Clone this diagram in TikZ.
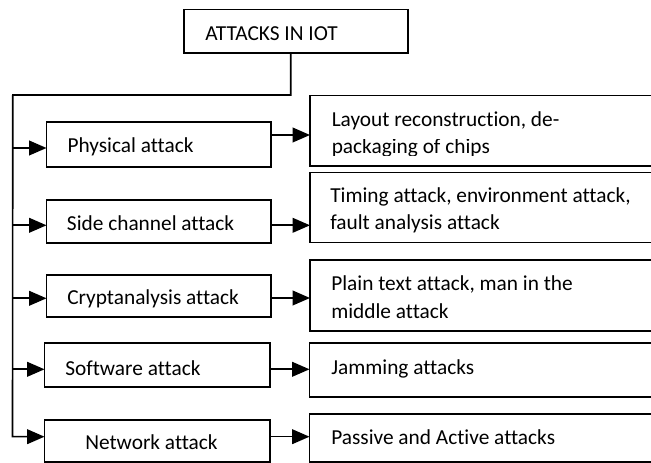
\documentclass[tikz,border=0pt]{standalone}
\usepackage{fontspec}
\setmainfont[Ligatures=CommonOff]{Carlito}
\usetikzlibrary{arrows.meta}

\tikzset{
  box/.style 2 args={draw, line width=1.4pt, minimum width=#1*0.75pt,
    minimum height=#2*0.75pt, anchor=north west, inner sep=0pt, outer sep=0pt},
  lbl/.style={anchor=base west, inner sep=0pt, font=\fontsize{16pt}{20pt}\selectfont},
  arr/.style={line width=1.2pt, -{Triangle[length=13pt,width=11pt]}}
}

\begin{document}
\begin{tikzpicture}[x=0.75pt, y=-0.75pt]
\useasboundingbox (0,0) rectangle (651,463);
\clip (0,0) rectangle (651,463);

% root box
\node[box={224}{43.2}] (root) at (184,9.5) {};
\node[lbl] (root-t) at (205,40.7) {ATTACKS IN IOT};

% categories of attack
\node[box={224.2}{44.4}] (phys) at (46.5,122.3) {};
\node[box={224.5}{43}]   (side) at (46.5,200) {};
\node[box={224.5}{42}]   (cryp) at (46.5,275) {};
\node[box={225.5}{44}]   (soft) at (44.5,343) {};
\node[box={225.5}{42}]   (netw) at (44.5,420) {};

\node[lbl] (phys-t) at (67.3,152.7) {Physical attack};
\node[lbl] (side-t) at (66.7,231) {Side channel attack};
\node[lbl] (cryp-t) at (67,305) {Cryptanalysis attack};
\node[lbl] (soft-t) at (65,376) {Software attack};
\node[lbl] (netw-t) at (85,450) {Network attack};

% examples of each attack
\node[box={350}{70.5}] (lay) at (310,95.5) {};
\node[box={350}{70}]   (tim) at (310,172.5) {};
\node[box={350}{71}]   (pla) at (310,260) {};
\node[box={350.5}{54}] (jam) at (309.5,343) {};
\node[box={350.5}{48}] (pas) at (309.5,414) {};

\node[lbl] (lay-t1) at (331.5,126.7) {Layout reconstruction, de-};
\begin{scope}
  \clip (312,140) rectangle (651,156);
  \node[lbl] (lay-t2) at (331.5,153.3) {packaging of chips};
\end{scope}
\node[lbl] (tim-t1) at (330,203) {Timing attack, environment attack,};
\node[lbl] (tim-t2) at (330,229.7) {fault analysis attack};
\node[lbl] (pla-t1) at (331,290.5) {Plain text attack, man in the};
\node[lbl] (pla-t2) at (331,318.5) {middle attack};
\node[lbl] (jam-t)  at (331,375) {Jamming attacks};
\node[lbl] (pas-t)  at (331,445) {Passive and Active attacks};

% trunk from the root down the left side
\coordinate (c0) at (290.7,95);
\coordinate (c1) at (12.8,95);
\coordinate (c2) at (12.5,436.7);
\draw[arr] (root.south -| c0) -- (c0) -- (c1) -- (c2) -- (c2 -| netw.west);

% branches into the categories
\coordinate (b1) at (12.8,148);
\coordinate (b2) at (12.7,225.3);
\coordinate (b3) at (12.6,298.3);
\coordinate (b4) at (12.5,369.3);
\draw[arr] (b1) -- (b1 -| phys.west);
\draw[arr] (b2) -- (b2 -| side.west);
\draw[arr] (b3) -- (b3 -| cryp.west);
\draw[arr] (b4) -- (b4 -| soft.west);

% links from categories to examples
\coordinate (r1) at (0,135);
\coordinate (r2) at (0,225.3);
\coordinate (r3) at (0,298);
\coordinate (r4) at (0,369.3);
\coordinate (r5) at (0,436.7);
\draw[arr] (phys.east |- r1) -- (lay.west |- r1);
\draw[arr] (side.east |- r2) -- (tim.west |- r2);
\draw[arr] (cryp.east |- r3) -- (pla.west |- r3);
\draw[arr] (soft.east |- r4) -- (jam.west |- r4);
\draw[arr] (netw.east |- r5) -- (pas.west |- r5);
\end{tikzpicture}
\end{document}
